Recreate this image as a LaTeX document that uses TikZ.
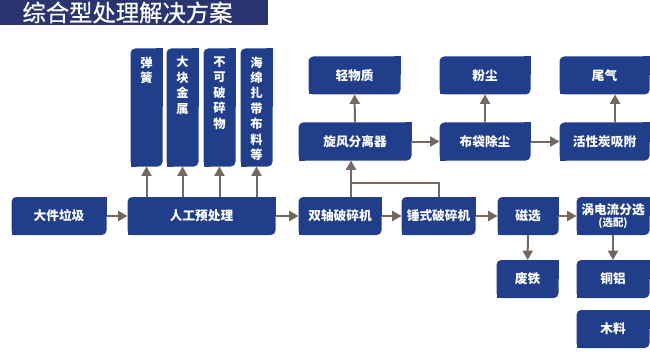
\documentclass[tikz,border=0pt]{standalone}
\usepackage{fontspec}
\setmainfont{Noto Sans CJK SC}
\newfontfamily\titlefont{Noto Sans CJK SC}[FakeBold=0.6]
\usetikzlibrary{arrows.meta,backgrounds}

\definecolor{boxblue}{RGB}{33,62,138}
\definecolor{titleblue}{RGB}{42,52,112}
\definecolor{arrowgray}{RGB}{117,104,96}

\tikzset{every picture/.style={line width=0.75pt}}
\tikzset{
  box/.style={inner sep=0pt, minimum height=27.75pt, text=white, font=\fontsize{9.5}{11}\selectfont\bfseries},
  vbox/.style={inner sep=0pt, minimum width=23.25pt, minimum height=87.75pt},
  vtext/.style={inner sep=0pt, anchor=north, text=white, align=center, font=\fontsize{9.2}{11.6}\selectfont\bfseries},
  arr/.style={draw=arrowgray, line width=1.5pt, -{Triangle[length=7pt,width=7.5pt]}},
  line/.style={draw=arrowgray, line width=1.5pt}
}

\begin{document}
\begin{tikzpicture}[x=0.75pt,y=0.75pt,yscale=-1,xscale=1]
\useasboundingbox (0,0) rectangle (650,353);

% Title bar
\fill[titleblue] (0,0) rectangle (268,25);
\node[anchor=west, inner sep=0pt, text=white, font=\fontsize{17.5}{20}\selectfont\titlefont] (title) at (22,12.5) {综合型处理解决方案};

% Main line
\node[box, minimum width=70.5pt] (dajian) at (59,216) {大件垃圾};
\node[box, minimum width=110.25pt] (rengong) at (201.5,216) {人工预处理};
\node[box, minimum width=61.5pt] (shuangzhou) at (340,216) {双轴破碎机};
\node[box, minimum width=54.75pt] (chuishi) at (438.5,216) {锤式破碎机};
\node[box, minimum width=45pt] (cixuan) at (528,216) {磁选};
\node[box, minimum width=54pt, align=center] (wodian) at (613,216) {涡电流分选\\[-2pt]{\fontsize{7.8}{9}\selectfont(选配)}};

% Sorted by hand
\node[vbox] (tanhuang) at (146.5,107.5) {};
\node[vbox] (dakuai) at (182.5,107.5) {};
\node[vbox] (bukepo) at (219.5,107.5) {};
\node[vbox] (haimian) at (256.5,107.5) {};
\node[vtext] at (146.5,56) {弹\\簧};
\node[vtext] at (182.5,56) {大\\块\\金\\属};
\node[vtext] at (219.5,56) {不\\可\\破\\碎\\物};
\node[vtext] at (256.5,56) {海\\绵\\扎\\带\\布\\料\\等};

% Air line
\node[box, minimum width=84pt] (xuanfeng) at (355,141.5) {旋风分离器};
\node[box, minimum width=67.5pt] (budai) at (485,141.5) {布袋除尘};
\node[box, minimum width=66.75pt] (huoxingtan) at (604.5,141.5) {活性炭吸附};
\node[box, minimum width=68.25pt] (qingwuzhi) at (354.5,75.5) {轻物质};
\node[box, minimum width=67.5pt] (fenchen) at (485,75.5) {粉尘};
\node[box, minimum width=66.75pt] (weiqi) at (604.5,75.5) {尾气};

% Metals
\node[box, minimum width=45.75pt] (feitie) at (527.5,279) {废铁};
\node[box, minimum width=54pt] (tonglv) at (613,279) {铜铝};
\node[box, minimum width=54pt] (muliao) at (613,329) {木料};

% Box shapes: rounded top left and bottom right
\begin{scope}[on background layer]
  \foreach \n in {dajian,rengong,shuangzhou,chuishi,cixuan,wodian,tanhuang,dakuai,bukepo,haimian,xuanfeng,budai,huoxingtan,qingwuzhi,fenchen,weiqi,feitie,tonglv,muliao}{
    \fill[boxblue, rounded corners=3.5pt] (\n.south west) rectangle (\n.north east);
    \fill[boxblue] (\n.north east) rectangle ([xshift=-5pt]\n.north east |- \n.center);
    \fill[boxblue] (\n.south west) rectangle ([xshift=5pt]\n.south west |- \n.center);
  }
\end{scope}

% Connectors
\coordinate (fenliu) at (351,183);
\draw[arr] (dajian) -- (rengong);
\draw[arr] (rengong) -- (shuangzhou);
\draw[arr] (shuangzhou) -- (chuishi);
\draw[arr] (chuishi) -- (cixuan);
\draw[arr] (cixuan) -- (wodian);
\foreach \v in {tanhuang,dakuai,bukepo,haimian}
  \draw[arr] (rengong.north -| \v.south) -- (\v.south);
\draw[arr] (shuangzhou.north -| fenliu) -- (xuanfeng.south -| fenliu);
\draw[line] (chuishi.north) |- (fenliu);
\draw[arr] (xuanfeng) -- (qingwuzhi);
\draw[arr] (xuanfeng) -- (budai);
\draw[arr] (budai) -- (huoxingtan);
\draw[arr] (budai) -- (fenchen);
\draw[arr] ([xshift=7.9pt]huoxingtan.north) -- ([xshift=7.9pt]weiqi.south);
\draw[arr] (cixuan) -- (feitie);
\draw[arr] (wodian) -- (tonglv);

\end{tikzpicture}
\end{document}
